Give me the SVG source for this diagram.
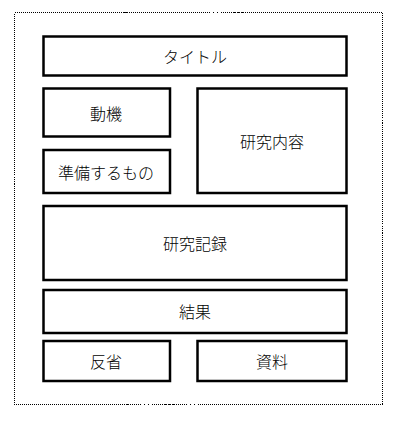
<svg xmlns="http://www.w3.org/2000/svg" width="408" height="432" viewBox="0 0 408 432">
<style>
.box{fill:#fff;stroke:#000;stroke-width:2.5}
.lbl{font-family:"Noto Sans CJK JP","Noto Sans",sans-serif;font-size:16px;font-weight:300;fill:#000;text-anchor:middle;dominant-baseline:central}
</style>
<rect width="408" height="432" fill="#fff"/>
<rect id="frame" x="14.5" y="12.5" width="368" height="392" fill="none" stroke="#000" stroke-width="1" stroke-dasharray="1,1" shape-rendering="crispEdges"/>
<g id="title"><rect class="box" x="43.5" y="36.5" width="303" height="39"/><text class="lbl" x="195" y="56">タイトル</text></g>
<g id="motive"><rect class="box" x="43.5" y="88.5" width="126.5" height="48"/><text class="lbl" x="106" y="113">動機</text></g>
<g id="prep"><rect class="box" x="43.5" y="150" width="126.5" height="43"/><text class="lbl" x="106" y="172">準備するもの</text></g>
<g id="content"><rect class="box" x="197.5" y="88.5" width="149" height="104.5"/><text class="lbl" x="272" y="141">研究内容</text></g>
<g id="record"><rect class="box" x="43.5" y="206" width="303" height="74"/><text class="lbl" x="195" y="243">研究記録</text></g>
<g id="result"><rect class="box" x="43.5" y="290" width="303" height="43"/><text class="lbl" x="195" y="311">結果</text></g>
<g id="reflect"><rect class="box" x="43.5" y="341" width="126.5" height="40"/><text class="lbl" x="106" y="361">反省</text></g>
<g id="material"><rect class="box" x="197.5" y="341" width="149" height="40"/><text class="lbl" x="272" y="361">資料</text></g>
<g id="connectors"/>
</svg>
